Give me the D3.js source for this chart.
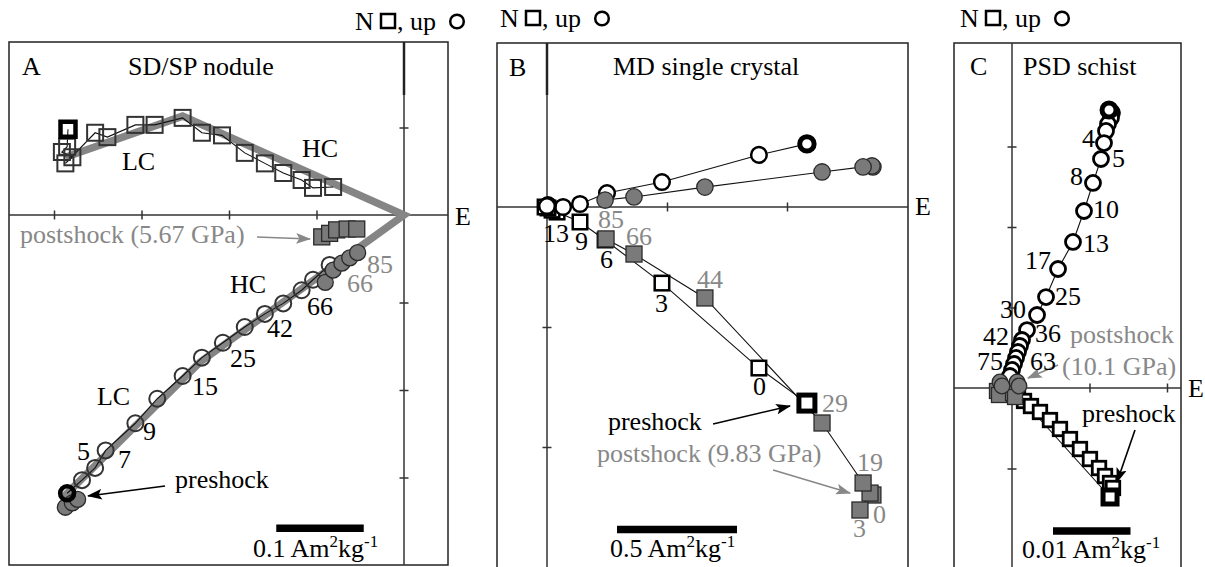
<!DOCTYPE html>
<html><head><meta charset="utf-8">
<script src="https://cdn.jsdelivr.net/npm/d3@7"></script>
<style>
body{margin:0;background:#fff}
svg{display:block}
</style>
</head><body>
<svg id="c" width="1205" height="567" font-family="Liberation Serif" font-size="26"></svg>
<script>
// ---------------- DATA (Am^2/kg; x = E, y = N or Up) ----------------
// Panel A : SD/SP nodule
const A_N_pre  = [[-0.384, 0.098]];
const A_N_open = [[-0.385,0.078],[-0.391,0.072],[-0.379,0.066],[-0.387,0.059],[-0.353,0.094],[-0.339,0.089],
  [-0.307,0.103],[-0.285,0.103],[-0.253,0.111],[-0.231,0.094],[-0.208,0.091],[-0.182,0.071],[-0.159,0.059],
  [-0.138,0.048],[-0.117,0.040],[-0.104,0.031],[-0.081,0.032]];
const A_N_post = [[-0.094,-0.025],[-0.085,-0.021],[-0.077,-0.017],[-0.065,-0.016],[-0.054,-0.016]];
const A_up_pre  = [[-0.385,-0.318]];
const A_up_open = [[-0.368,-0.303],[-0.353,-0.289],[-0.341,-0.269],[-0.307,-0.238],[-0.282,-0.210],[-0.253,-0.184],
  [-0.231,-0.163],[-0.207,-0.146],[-0.182,-0.128],[-0.159,-0.113],[-0.138,-0.101],[-0.117,-0.086],[-0.104,-0.074],[-0.085,-0.057]];
const A_up_post = [[-0.387,-0.334],[-0.379,-0.329],[-0.373,-0.325],[-0.090,-0.077],[-0.081,-0.063],[-0.071,-0.055],[-0.062,-0.049],[-0.053,-0.043]];
const A_fit_N  = [[-0.387,0.066],[-0.253,0.113],[0,0]];
const A_fit_up = [[0,0],[-0.233,-0.168],[-0.389,-0.322]];
const A_steps_pre  = [["66",-0.1109,-0.1143],["42",-0.1566,-0.1394],["25",-0.1989,-0.1737],["15",-0.2423,-0.2057],
  ["9",-0.2983,-0.2571],["7",-0.3269,-0.2891],["5",-0.3737,-0.2800]];
const A_steps_post = [["85",-0.0423,-0.0663],["66",-0.0651,-0.0880]];

// Panel B : MD single crystal
const B_up_pre  = [[1.083,0.263]];
const B_up_open = [[0.883,0.217],[0.479,0.104],[0.25,0.058],[0.1375,0.0125],[0.067,0],[0.004,0.008],[0.0,0.004]];
const B_up_post = [[1.358,0.167],[1.354,0.171],[1.317,0.167],[1.146,0.146],[0.658,0.083],[0.3625,0.042],[0.242,0.029]];
const B_N_pre  = [[1.083,-0.817]];
const B_N_open = [[0.883,-0.671],[0.479,-0.317],[0.242,-0.1375],[0.1375,-0.0625],[0.042,-0.021],[0.021,-0.013],[0.004,-0.004],[-0.008,0]];
const B_N_post = [[1.358,-1.2],[1.304,-1.2625],[1.346,-1.192],[1.317,-1.15],[1.146,-0.9],[0.658,-0.379],[0.3625,-0.196],[0.246,-0.133]];
const B_steps_pre  = [["13",-0.0167,-0.1458],["9",0.1167,-0.179],["6",0.221,-0.254],["3",0.45,-0.4375],["0",0.858,-0.783]];
const B_steps_post = [["85",0.2125,-0.0875],["66",0.329,-0.158],["44",0.625,-0.3375],["29",1.146,-0.854],
  ["19",1.292,-1.1],["0",1.358,-1.317],["3",1.275,-1.375]];

// Panel C : PSD schist
const C_up_pre  = [[0.01252,0.03453]];
const C_up_open = [[0.0129,0.0342],[0.01277,0.03354],[0.01239,0.0328],[0.01213,0.03193],[0.01187,0.03043],[0.01148,0.02845],
  [0.01045,0.02547],[0.00929,0.02199],[0.00787,0.01814],[0.00594,0.01478],[0.00439,0.0113],[0.00323,0.00907],[0.00194,0.0072],
  [0.00129,0.00596],[0.00103,0.00522],[0.00077,0.00447],[0.00052,0.00373],[0.00026,0.00298],[0,0.00224],[-0.00026,0.00149]];
const C_up_post = [[-0.00155,0.00075],[-0.00129,0.00025],[0.00065,0.00075],[0.0009,0.00025]];
const C_N_pre  = [[0.01265,-0.01354]];
const C_N_open = [[0.00077,-0.00087],[0.00155,-0.00161],[0.00245,-0.00224],[0.00361,-0.00298],[0.0049,-0.00398],
  [0.00619,-0.00509],[0.00748,-0.00634],[0.00877,-0.00758],[0.01006,-0.00882],[0.01123,-0.00994],[0.012,-0.01093],
  [0.01265,-0.0118],[0.01303,-0.01242]];
const C_N_post = [[-0.00194,-0.00037],[-0.00168,-0.00087],[0.00013,-0.00062],[0.00039,-0.00112]];
const C_steps_pre = [["4",0.00903,0.02994],["5",0.0129,0.02745],["8",0.00748,0.02522],["10",0.01045,0.02112],
  ["13",0.00916,0.01689],["17",0.00168,0.01478],["25",0.00555,0.01031],["30",-0.00155,0.0087],["36",0.00297,0.00571],
  ["42",-0.00374,0.00534],["75",-0.00452,0.00224],["63",0.00232,0.00224]];

// tick values & scale bars
const A_xticks = [-0.4,-0.3,-0.2,-0.1], A_yticks = [0.1,-0.1,-0.2,-0.3];
const B_xticks = [0.5,1.0],             B_yticks = [-0.5,-1.0];
const C_xticks = [0.01,0.02],           C_yticks = [0.03,0.02,0.01,-0.01];
const scaleBarLabels = ["0.1","0.5","0.01"];

// ---------------- LAYOUT ----------------
const FONT = "'Liberation Serif','Times New Roman',Times,serif";
const panels = [
 {key:"A", title:"SD/SP nodule", box:[9,42,448,565], origin:[404,215], kx:875, ky:875, header:[355,30],
  letterAt:[-0.4366,0.16], titleAt:[-0.3154,0.16], Eat:[0.0583,-0.0114],
  bar:{x0:-0.146,len:0.1,y:-0.358}, barLabelAt:[-0.1726,-0.3909],
  open:{fill:"none",stroke:"#333",w:2,sq:16,r:8}, pre:{w:4.5,sq:15,r:7}, post:{sq:16,r:8},
  data:{Npre:A_N_pre,Nopen:A_N_open,Npost:A_N_post,Upre:A_up_pre,Uopen:A_up_open,Upost:A_up_post,
        stepsPre:A_steps_pre,stepsPost:A_steps_post,xt:A_xticks,yt:A_yticks,lineUpPost:false,lineNPost:false},
  texts:[["LC",-0.3223,0.0514,"#000"],["HC",-0.1166,0.0663,"#000"],["HC",-0.1989,-0.0891,"#000"],["LC",-0.3509,-0.2171,"#000"],
         ["postshock (5.67 GPa)",-0.4389,-0.032,"#888"],["preshock",-0.2617,-0.312,"#000"]],
  arrows:[[[-0.168,-0.0251],[-0.1074,-0.0274],"#888"],[[-0.2731,-0.3097],[-0.3611,-0.3211],"#000"]],
  thick:[["v",0,42,95]]},
 {key:"B", title:"MD single crystal", box:[497,43,908,568], origin:[547,207], kx:240, ky:240, header:[500,27],
  letterAt:[-0.1583,0.5458], titleAt:[0.275,0.55], Eat:[1.533,-0.033],
  bar:{x0:0.2917,len:0.5,y:-1.344}, barLabelAt:[0.2625,-1.458],
  open:{fill:"#fff",stroke:"#000",w:2.5,sq:14.5,r:7.8}, pre:{w:5,sq:16,r:7.2}, post:{sq:16,r:8.2},
  data:{Npre:B_N_pre,Nopen:B_N_open,Npost:B_N_post,Upre:B_up_pre,Uopen:B_up_open,Upost:B_up_post,
        stepsPre:B_steps_pre,stepsPost:B_steps_post,xt:B_xticks,yt:B_yticks,lineUpPost:true,lineNPost:true},
  texts:[["preshock",0.254,-0.929,"#000"],["postshock (9.83 GPa)",0.208,-1.0625,"#888"]],
  arrows:[[[0.692,-0.904],[1.0125,-0.829],"#000"],[[0.942,-1.096],[1.2625,-1.192],"#888"]],
  thick:[["v",0,43,95]]},
 {key:"C", title:"PSD schist", box:[954,43,1181,568], origin:[1012,388], kx:7750, ky:8050, header:[960,27],
  letterAt:[-0.00542,0.03888], titleAt:[0.00142,0.03888], Eat:[0.0227,-0.00112],
  bar:{x0:0.00529,len:0.01,y:-0.01776}, barLabelAt:[0.00129,-0.02112],
  open:{fill:"#fff",stroke:"#000",w:2.8,sq:13.5,r:7.5}, pre:{w:5,sq:14,r:7}, post:{sq:15,r:7.8},
  data:{Npre:C_N_pre,Nopen:C_N_open,Npost:C_N_post,Upre:C_up_pre,Uopen:C_up_open,Upost:C_up_post,
        stepsPre:C_steps_pre,stepsPost:[],xt:C_xticks,yt:C_yticks,lineUpPost:false,lineNPost:false},
  texts:[["postshock",0.00748,0.00559,"#888"],["(10.1 GPa)",0.00645,0.00161,"#888"],["preshock",0.00903,-0.00422,"#000"]],
  arrows:[[[0.00594,0.00286],[0.00206,0.00124],"#888"],[[0.01587,-0.00522],[0.01355,-0.01168],"#000"]],
  thick:[]}
];

// ---------------- DRAW ----------------
const svg = d3.select("#c");
svg.append("rect").attr("width",1205).attr("height",567).attr("fill","#fff");
const defs = svg.append("defs");
function mkArrow(id,color){
  defs.append("marker").attr("id",id).attr("viewBox","0 0 14 10").attr("refX",13).attr("refY",5)
    .attr("markerWidth",15).attr("markerHeight",11).attr("markerUnits","userSpaceOnUse").attr("orient","auto")
    .append("path").attr("d","M0,0 L14,5 L0,10 L3,5 Z").attr("fill",color);
}
mkArrow("ak","#000"); mkArrow("ag","#888");

const GRAY_FILL="#7a7a7a", GRAY_STROKE="#2a2a2a", GRAY_TXT="#888";

function addText(g,x,y,s,color){
  return g.append("text").attr("x",x).attr("y",y).attr("fill",color||"#000")
    .style("font-family",FONT).style("font-size","26px").text(s);
}
function unitLabel(g,x,y,num){
  const t=addText(g,x,y,"");
  t.append("tspan").text(num+" Am");
  t.append("tspan").attr("dy",-10).style("font-size","17px").text("2");
  t.append("tspan").attr("dy",10).text("kg");
  t.append("tspan").attr("dy",-10).style("font-size","17px").text("-1");
}
function header(g,x,y){
  addText(g,x,y,"N");
  g.append("rect").attr("x",x+26).attr("y",y-16).attr("width",14).attr("height",14)
    .attr("fill","none").attr("stroke","#000").attr("stroke-width",2.5);
  addText(g,x+42,y,", up");
  g.append("circle").attr("cx",x+102).attr("cy",y-8.5).attr("r",6.8)
    .attr("fill","none").attr("stroke","#000").attr("stroke-width",2.5);
}

panels.forEach((P,pi)=>{
  const g = svg.append("g");
  const D = P.data;
  const x = d3.scaleLinear().domain([0,1]).range([P.origin[0], P.origin[0]+P.kx]);
  const y = d3.scaleLinear().domain([0,1]).range([P.origin[1], P.origin[1]-P.ky]);
  const [bx0,by0,bx1,by1]=P.box;

  header(g,P.header[0],P.header[1]);

  // frame
  g.append("rect").attr("x",bx0).attr("y",by0).attr("width",bx1-bx0).attr("height",by1-by0)
    .attr("fill","none").attr("stroke","#222").attr("stroke-width",1.5);
  // axes lines
  g.append("line").attr("x1",bx0).attr("x2",bx1).attr("y1",y(0)).attr("y2",y(0)).attr("stroke","#333").attr("stroke-width",1.5);
  g.append("line").attr("x1",x(0)).attr("x2",x(0)).attr("y1",by0).attr("y2",by1).attr("stroke","#333").attr("stroke-width",1.5);
  P.thick.forEach(t=>{
    g.append("line").attr("x1",x(0)).attr("x2",x(0)).attr("y1",t[2]).attr("y2",t[3]).attr("stroke","#222").attr("stroke-width",2.5);
  });
  // crossing ticks via d3 axes
  const ax = g.append("g").attr("transform",`translate(0,${y(0)-4.5})`)
    .call(d3.axisBottom(x).tickValues(D.xt).tickSize(9).tickFormat(""));
  const ay = g.append("g").attr("transform",`translate(${x(0)-4.5},0)`)
    .call(d3.axisRight(y).tickValues(D.yt).tickSize(9).tickFormat(""));
  [ax,ay].forEach(a=>{a.select(".domain").remove(); a.selectAll("line").attr("stroke","#333").attr("stroke-width",1.5);});

  const line = d3.line().x(d=>x(d[0])).y(d=>y(d[1]));

  // fit lines (panel A)
  if(P.key==="A"){
    g.append("path").attr("d",line(A_fit_N.concat(A_fit_up.slice(1))))
      .attr("fill","none").attr("stroke","#858585").attr("stroke-width",7.5).attr("stroke-linejoin","miter").attr("stroke-miterlimit",10);
  }

  const O=P.open;
  function squares(data,side,fill,stroke,w){
    g.selectAll(null).data(data).enter().append("rect")
      .attr("x",d=>x(d[0])-side/2).attr("y",d=>y(d[1])-side/2).attr("width",side).attr("height",side)
      .attr("fill",fill).attr("stroke",stroke).attr("stroke-width",w);
  }
  function circles(data,r,fill,stroke,w){
    g.selectAll(null).data(data).enter().append("circle")
      .attr("cx",d=>x(d[0])).attr("cy",d=>y(d[1])).attr("r",r)
      .attr("fill",fill).attr("stroke",stroke).attr("stroke-width",w);
  }
  function thin(data,color){
    g.append("path").attr("d",line(data)).attr("fill","none").attr("stroke",color||"#111").attr("stroke-width",1.1);
  }

  // connecting lines
  thin(D.Npre.concat(D.Nopen));
  thin(D.Upre.concat(D.Uopen));
  if(D.lineNPost) thin(D.Npost);
  if(D.lineUpPost) thin(D.Upost);

  // open markers
  squares(D.Nopen,O.sq,O.fill,O.stroke,O.w);
  circles(D.Uopen,O.r,O.fill,O.stroke,O.w);
  // postshock markers
  squares(D.Npost,P.post.sq,GRAY_FILL,GRAY_STROKE,1.3);
  circles(D.Upost,P.post.r,GRAY_FILL,GRAY_STROKE,1.3);
  // preshock
  squares(D.Npre,P.pre.sq,O.fill==="none"?"none":"#fff","#000",P.pre.w);
  circles(D.Upre,P.pre.r,O.fill==="none"?"none":"#fff","#000",P.pre.w);

  // scale bar
  g.append("line").attr("x1",x(P.bar.x0)).attr("x2",x(P.bar.x0+P.bar.len))
    .attr("y1",y(P.bar.y)).attr("y2",y(P.bar.y)).attr("stroke","#000").attr("stroke-width",7.5);
  unitLabel(g,x(P.barLabelAt[0]),y(P.barLabelAt[1]),scaleBarLabels[pi]);

  // arrows
  P.arrows.forEach(a=>{
    g.append("line").attr("x1",x(a[0][0])).attr("y1",y(a[0][1])).attr("x2",x(a[1][0])).attr("y2",y(a[1][1]))
      .attr("stroke",a[2]).attr("stroke-width",1.6).attr("marker-end",a[2]==="#000"?"url(#ak)":"url(#ag)");
  });

  // texts
  const T=(s,p,c)=>addText(g,x(p[0]),y(p[1]),s,c||"#000");
  T(P.key,P.letterAt); T(P.title,P.titleAt); T("E",P.Eat);
  D.stepsPre.forEach(s=>T(s[0],[s[1],s[2]],"#000"));
  D.stepsPost.forEach(s=>T(s[0],[s[1],s[2]],GRAY_TXT));
  P.texts.forEach(s=>T(s[0],[s[1],s[2]],s[3]));
});
</script>
</body></html>
